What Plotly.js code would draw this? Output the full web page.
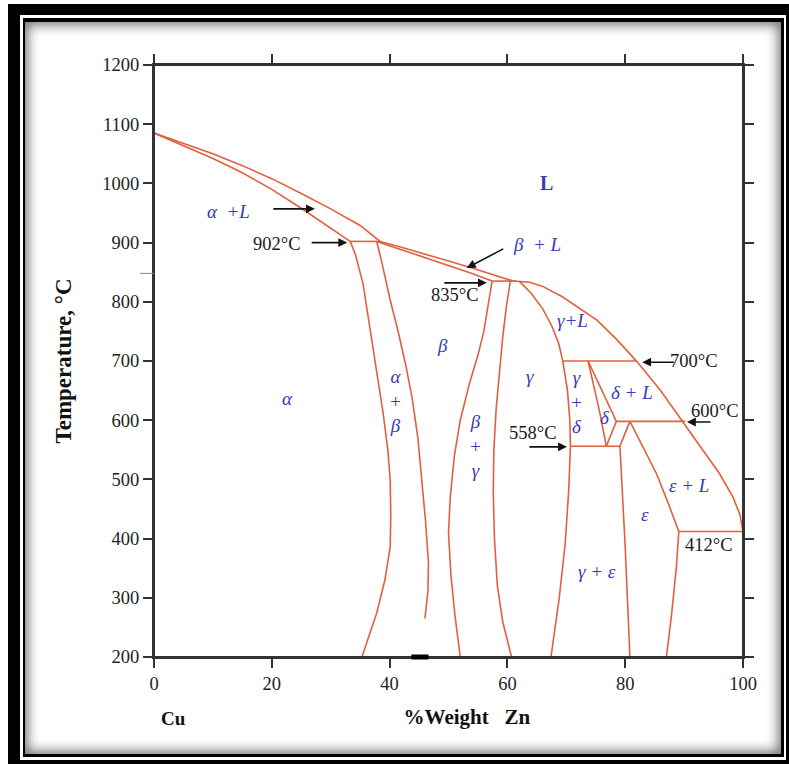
<!DOCTYPE html>
<html>
<head>
<meta charset="utf-8">
<script src="https://cdn.plot.ly/plotly-3.0.1.min.js"></script>
<style>
  html, body { margin:0; padding:0; background:#fff; }
  .f { position:absolute; }
</style>
</head>
<body>
<div class="f" style="left:8px;top:4px;width:781px;height:760px;background:#000"></div>
<div class="f" style="left:20px;top:15px;width:766px;height:745px;background:#fff"></div>
<div class="f" style="left:23px;top:18px;width:761px;height:739px;background:#000"></div>
<div class="f" style="left:25px;top:22px;width:756px;height:732px;background:#fff;box-shadow:inset 0 0 12px 3px rgba(0,0,0,0.55)"></div>
<div id="chart" class="f" style="left:0;top:0;width:789px;height:764px"></div>
<script>
// ---- Axis ticks ----
const xTicks = [0, 20, 40, 60, 80, 100];
const yTicks = [200, 300, 400, 500, 600, 700, 800, 900, 1000, 1100, 1200];

// ---- Phase boundaries (wt% Zn, °C) ----
const liquidusX = [0, 5, 10, 15, 20, 25, 30, 35, 38.4, 42, 46, 50, 54, 58, 61, 63.8, 66, 69.4, 72, 75.2, 78.5, 82, 86, 89.8, 93, 96, 98.3, 99.5, 100];
const liquidusY = [1085, 1068, 1050, 1030, 1008, 983, 957, 929, 902, 892, 881, 869, 857, 845, 835, 833, 826, 808, 790, 769, 737, 699, 650, 597, 551, 510, 470, 440, 412];

const alphaSolidusX = [0, 5, 10, 15, 20, 25, 30, 33.3];
const alphaSolidusY = [1085, 1064, 1042, 1018, 990, 958, 925, 902];

const betaSolidusX = [37.8, 42, 46, 50, 54, 57.4];
const betaSolidusY = [902, 888, 875, 862, 848, 835];

const alphaSolvusX = [33.3, 34.2, 35.5, 36.7, 37.8, 38.9, 39.7, 40.1, 40.2, 40.1, 39.2, 37.8, 35.3];
const alphaSolvusY = [902, 880, 830, 752, 680, 612, 550, 499, 440, 386, 330, 274, 200];

const betaLeftX = [37.8, 38.6, 40.1, 41.4, 42.7, 43.8, 44.8, 45.5, 46.1, 46.6, 46.5, 46];
const betaLeftY = [902, 870, 803, 752, 695, 639, 570, 499, 430, 358, 310, 265];

const betaRightX = [57.4, 56.8, 56, 55, 53.5, 52, 51, 50.3, 50, 50.4, 51.1, 52];
const betaRightY = [835, 800, 750, 710, 660, 600, 540, 470, 410, 340, 270, 200];

const gammaLeftX = [60.5, 59.8, 59.2, 58.6, 58.1, 57.7, 57.6, 57.8, 58.3, 59.2, 60.7];
const gammaLeftY = [835, 790, 740, 680, 620, 550, 480, 400, 320, 260, 200];

const gammaRightX = [62, 64, 66, 67.5, 68.7, 69.4, 70.2, 70.6, 70.7, 70.4, 69.8, 68.8, 67.4];
const gammaRightY = [835, 815, 788, 760, 730, 700, 650, 600, 556, 480, 390, 300, 200];

const deltaLeftX = [73.7, 75.6, 76.8];
const deltaLeftY = [700, 617, 556];
const deltaRightX = [73.7, 78.5];
const deltaRightY = [700, 598];
const deltaLowerX = [78.5, 76.8];
const deltaLowerY = [598, 556];

const epsLeftX = [80.8, 79.1, 79.4, 80, 80.8];
const epsLeftY = [598, 556, 500, 386, 200];
const epsRightX = [80.8, 83, 85.3, 87.3, 89.1];
const epsRightY = [598, 555, 510, 460, 412];
const epsLowerX = [89.1, 88.7, 87.9, 87];
const epsLowerY = [412, 353, 274, 200];

// ---- Isotherms ----
const iso902X = [33.3, 38.4];   const iso902Y = [902, 902];
const iso835X = [57.4, 61.5];   const iso835Y = [835, 835];
const iso700X = [69.4, 82];     const iso700Y = [700, 700];
const iso600X = [78.5, 90.2];   const iso600Y = [598, 598];
const iso558X = [70.7, 79.1];   const iso558Y = [556, 556];
const iso412X = [89.1, 100];    const iso412Y = [412, 412];

// ---- Small black mark on the axis ----
const axisMarkX = [43.7, 46.6];

// ---- Phase labels ----
const phaseText = ['α  +L', 'L', 'β  + L', 'γ+L', 'β', 'α', 'α<br>+<br>β', 'β<br>+<br>γ', 'γ', 'γ<br>+<br>δ', 'δ + L', 'δ', 'ε + L', 'ε', 'γ + ε'];
const phaseX    = [12.6, 66.7, 65.1, 71, 48.9, 22.6, 41, 54.6, 63.8, 71.8, 81.2, 76.6, 90.8, 83.4, 75.2];
const phaseY    = [953, 1001, 896, 768, 727, 637, 632, 556, 673, 631, 646, 604, 490, 440, 344];

// ---- Temperature labels ----
const tempText = ['902°C', '835°C', '700°C', '600°C', '558°C', '412°C'];
const tempX    = [20.9, 51.1, 91.7, 95.2, 64.3, 94.2];
const tempY    = [897, 811, 700, 616, 578, 389];

// ---- Arrows (tip in data, tail offset in px) ----
const arrowTipX = [27.3, 32.8, 53.1, 56.5, 82.9, 90.5, 70.1];
const arrowTipY = [957, 900, 857, 832, 698, 597, 555];
const arrowAX   = [-43, -37, 38, -44, 33, 25, -39];
const arrowAY   = [0, 0, -20, 0, 0, 0, 0];

const RED = '#e2603e';
const BLUE = '#3a3ab4';
const SERIF = 'Liberation Serif, Times New Roman, serif';

function curve(x, y) {
  return { x: x, y: y, type: 'scatter', mode: 'lines',
           line: { color: RED, width: 1.6 }, hoverinfo: 'skip', showlegend: false };
}

const traces = [
  curve(liquidusX, liquidusY),
  curve(alphaSolidusX, alphaSolidusY),
  curve(betaSolidusX, betaSolidusY),
  curve(alphaSolvusX, alphaSolvusY),
  curve(betaLeftX, betaLeftY),
  curve(betaRightX, betaRightY),
  curve(gammaLeftX, gammaLeftY),
  curve(gammaRightX, gammaRightY),
  curve(deltaLeftX, deltaLeftY),
  curve(deltaRightX, deltaRightY),
  curve(deltaLowerX, deltaLowerY),
  curve(epsLeftX, epsLeftY),
  curve(epsRightX, epsRightY),
  curve(epsLowerX, epsLowerY),
  curve(iso902X, iso902Y),
  curve(iso835X, iso835Y),
  curve(iso700X, iso700Y),
  curve(iso600X, iso600Y),
  curve(iso558X, iso558Y),
  curve(iso412X, iso412Y)
];

const annotations = [];
for (let i = 0; i < phaseText.length; i++) {
  const isL = phaseText[i] === 'L';
  annotations.push({
    x: phaseX[i], y: phaseY[i], xref: 'x', yref: 'y', showarrow: false,
    xanchor: 'center', yanchor: 'middle',
    text: isL ? '<b>L</b>' : phaseText[i].replace(/  /g, '&nbsp;&nbsp;'),
    font: { family: SERIF, size: isL ? 20 : 19, color: BLUE, style: isL ? 'normal' : 'italic' }
  });
}
for (let i = 0; i < tempText.length; i++) {
  annotations.push({
    x: tempX[i], y: tempY[i], xref: 'x', yref: 'y', showarrow: false,
    xanchor: 'center', yanchor: 'middle',
    text: tempText[i], font: { family: SERIF, size: 18.5, color: '#1a1a1a' }
  });
}
for (let i = 0; i < arrowTipX.length; i++) {
  annotations.push({
    x: arrowTipX[i], y: arrowTipY[i], xref: 'x', yref: 'y', text: '',
    showarrow: true, ax: arrowAX[i], ay: arrowAY[i], axref: 'pixel', ayref: 'pixel',
    arrowhead: 2, arrowsize: 1.1, arrowwidth: 1.6, arrowcolor: '#111', standoff: 0
  });
}
annotations.push({
  x: (173 - 154) / 589, y: (657 - 718) / 592, xref: 'paper', yref: 'paper', showarrow: false,
  xanchor: 'center', yanchor: 'middle',
  text: '<b>Cu</b>', font: { family: SERIF, size: 19, color: '#111' }
});

const AX = '#333';
const shapes = [
  { type: 'line', xref: 'paper', yref: 'paper', x0: -0.015, x1: 1.015, y0: 1, y1: 1, line: { color: AX, width: 2 } },
  { type: 'line', xref: 'paper', yref: 'paper', x0: -0.015, x1: 1.015, y0: 0, y1: 0, line: { color: AX, width: 2 } },
  { type: 'line', xref: 'paper', yref: 'paper', x0: 0, x1: 0, y0: -0.009, y1: 1.009, line: { color: AX, width: 2 } },
  { type: 'line', xref: 'paper', yref: 'paper', x0: 1, x1: 1, y0: -0.009, y1: 1.009, line: { color: AX, width: 2 } },
  { type: 'line', xref: 'paper', yref: 'y', x0: -0.024, x1: 0, y0: 848, y1: 848, line: { color: '#888', width: 1 } },
  { type: 'line', xref: 'x', yref: 'paper', x0: axisMarkX[0], x1: axisMarkX[1], y0: 0, y1: 0, line: { color: '#000', width: 5 } }
];

const layout = {
  width: 789, height: 764,
  margin: { l: 154, r: 46, t: 65, b: 107, pad: 0 },
  paper_bgcolor: 'rgba(0,0,0,0)',
  plot_bgcolor: 'rgba(0,0,0,0)',
  showlegend: false,
  hovermode: false,
  xaxis: {
    range: [0, 100], tickvals: xTicks, ticktext: xTicks.map(String),
    ticks: 'outside', ticklen: 9, tickwidth: 2, tickcolor: AX,
    showline: true, linecolor: AX, linewidth: 2, mirror: 'ticks',
    showgrid: false, zeroline: false, fixedrange: true,
    tickfont: { family: SERIF, size: 18.5, color: '#222' },
    title: { text: '<b>&nbsp;&nbsp;&nbsp;&nbsp;&nbsp;&nbsp;&nbsp;%Weight&nbsp;&nbsp;&nbsp;Zn</b>', font: { family: SERIF, size: 21, color: '#111' }, standoff: 16 }
  },
  yaxis: {
    range: [200, 1200], tickvals: yTicks, ticktext: yTicks.map(String),
    ticks: 'outside', ticklen: 9, tickwidth: 2, tickcolor: AX,
    showline: true, linecolor: AX, linewidth: 2, mirror: 'ticks',
    showgrid: false, zeroline: false, fixedrange: true,
    tickfont: { family: SERIF, size: 18.5, color: '#222' },
    title: { text: '<b>Temperature, °C</b>', font: { family: SERIF, size: 23, color: '#111' }, standoff: 24 }
  },
  annotations: annotations,
  shapes: shapes
};

Plotly.newPlot('chart', traces, layout, { staticPlot: true, displayModeBar: false });
</script>
</body>
</html>
